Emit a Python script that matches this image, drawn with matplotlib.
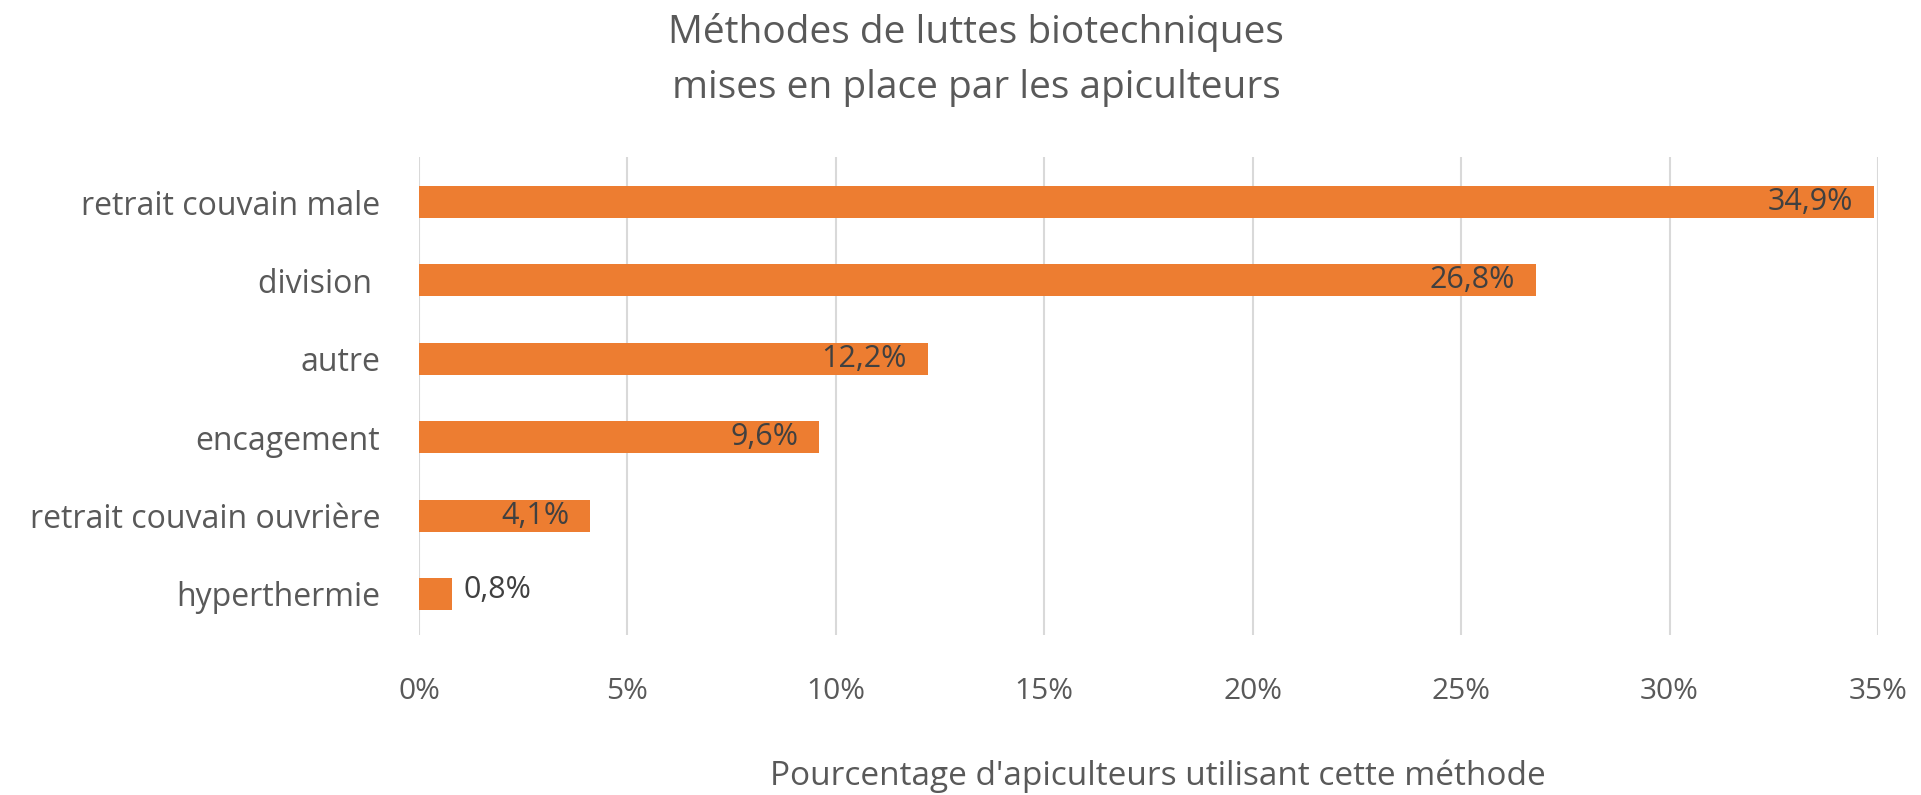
import matplotlib
matplotlib.use("Agg")
import matplotlib.pyplot as plt
from matplotlib.ticker import FuncFormatter, MultipleLocator

categories = ["retrait couvain male", "division ", "autre", "encagement",
              "retrait couvain ouvrière", "hyperthermie"]
values = [34.9, 26.8, 12.2, 9.6, 4.1, 0.8]
value_labels = ["34,9%", "26,8%", "12,2%", "9,6%", "4,1%", "0,8%"]
title = "Méthodes de luttes biotechniques\nmises en place par les apiculteurs"
xlabel = "Pourcentage d'apiculteurs utilisant cette méthode"

plt.rcParams['font.family'] = ['Open Sans', 'DejaVu Sans']
text_color = "#595959"
bar_color = "#ED7D31"

fig = plt.figure(figsize=(19.21, 7.95), dpi=100)
ax = fig.add_axes([419/1921, 1 - 635/795, (1878-419)/1921, (635-157)/795])

ypos = list(range(len(categories)))
ax.barh(ypos, values, height=0.41, color=bar_color, zorder=3)
ax.set_ylim(5.523, -0.574)
ax.set_xlim(0, 35)
ax.set_yticks(ypos)
ax.set_yticklabels(categories, fontsize=23, color=text_color)
ax.xaxis.set_major_locator(MultipleLocator(5))
ax.xaxis.set_major_formatter(FuncFormatter(lambda v, p: f"{int(round(v))}%"))
ax.tick_params(axis='x', labelsize=21.5, labelcolor=text_color, length=0, pad=30)
ax.tick_params(axis='y', length=0, pad=28)
for s in ax.spines.values():
    s.set_visible(False)
ax.grid(axis='x', color="#D9D9D9", linewidth=1.5, zorder=0)
ax.set_axisbelow(True)

for y, v, lab in zip(ypos, values, value_labels):
    if v > 2:
        ax.annotate(lab, (v, y), xytext=(-15, 0), textcoords='offset points',
                    ha='right', va='center', fontsize=22, color="#404040", zorder=4)
    else:
        ax.annotate(lab, (v, y), xytext=(8, 3), textcoords='offset points',
                    ha='left', va='center', fontsize=22, color="#404040", zorder=4)

fig.text(976/1921, 1 - 60/795, title, ha='center', va='center', fontsize=28,
         color=text_color, linespacing=1.62)
fig.text(1158/1921, 1 - 776/795, xlabel, ha='center', va='center', fontsize=24,
         color=text_color)

fig.savefig("out.png", dpi=100, facecolor="white")
